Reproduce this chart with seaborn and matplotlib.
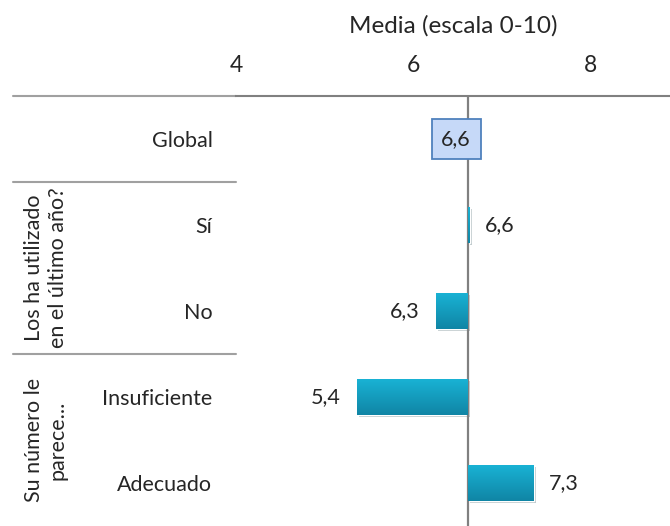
import numpy as np
import pandas as pd
import matplotlib
matplotlib.use("Agg")
import matplotlib.pyplot as plt
import matplotlib.patheffects as pe
import seaborn as sns

# ---- data ----
categories = ["Global", "Sí", "No", "Insuficiente", "Adecuado"]
means = [6.62, 6.64, 6.26, 5.37, 7.36]
value_labels = ["6,6", "6,6", "6,3", "5,4", "7,3"]
baseline = 6.62
tick_values = [4, 6, 8]
tick_labels = ["4", "6", "8"]
groups = ["Los ha utilizado\nen el último año?", "Su número le\nparece..."]
group_centers = [1.5, 3.5]
group_separators = [-0.5, 0.5, 2.5]
axis_title = "Media (escala 0-10)"

sns.set_theme(style="white")
FONT = ["Lato", "DejaVu Sans"]
plt.rcParams["font.family"] = FONT
FS = 15.5

df = pd.DataFrame({"cat": categories, "diff": np.array(means) - baseline})

fig = plt.figure(figsize=(6.70, 5.26), dpi=100)
ax = fig.add_axes([236 / 670, 0.0, 434 / 670, 1 - 96 / 526])

sns.barplot(data=df, x="diff", y="cat", orient="h", color="#159CBE",
            width=0.41, ax=ax, saturation=1)

ax.set_xlim(4 - baseline, 8.9 - baseline)
ax.set_ylim(4.5, -0.5)

# gradient on bars
grad = np.linspace(0, 1, 64).reshape(-1, 1)
cmap = matplotlib.colors.LinearSegmentedColormap.from_list("g", ["#19B2D4", "#1085A5"])
for p in ax.patches:
    x0, y0 = p.get_x(), p.get_y()
    w, h = p.get_width(), p.get_height()
    if abs(w) < 1e-9:
        continue
    p.set_path_effects([pe.SimplePatchShadow(offset=(1.5, -1.5), alpha=0.25), pe.Normal()])
    im = ax.imshow(grad, cmap=cmap, aspect="auto", origin="upper",
                   extent=(x0, x0 + w, y0 + h, y0), zorder=p.get_zorder() + 0.1)
    im.set_clip_path(p)

ax.set_xlim(4 - baseline, 8.9 - baseline)
ax.set_ylim(4.5, -0.5)

# axes styling
ax.xaxis.tick_top()
ax.xaxis.set_label_position("top")
ax.set_xticks([v - baseline for v in tick_values])
ax.set_xticklabels(tick_labels, fontsize=16.5)
ax.tick_params(axis="x", length=0, pad=14.5)
ax.set_xlabel(axis_title, fontsize=17.5, labelpad=16)
ax.set_ylabel("")
ax.tick_params(axis="y", length=0, pad=17, labelsize=FS)
for s in ["left", "right", "bottom"]:
    ax.spines[s].set_visible(False)
ax.spines["top"].set_color("#808080")
ax.spines["top"].set_linewidth(1.5)

ax.axvline(0, color="#808080", lw=1.6, zorder=1)

# value labels
for i, (m, lab) in enumerate(zip(means, value_labels)):
    d = m - baseline
    if i == 0:
        ax.text(-0.135, i, lab, ha="center", va="center", fontsize=FS, zorder=5,
                bbox=dict(boxstyle="square,pad=0.45", fc="#C6D9F8", ec="#4F81BD", lw=1.3))
    elif d >= 0:
        ax.annotate(lab, (d, i), xytext=(11, 0), textcoords="offset points",
                    ha="left", va="center", fontsize=FS)
    else:
        ax.annotate(lab, (d, i), xytext=(-12, 0), textcoords="offset points",
                    ha="right", va="center", fontsize=FS)

# group separators and labels in category area
trans = matplotlib.transforms.blended_transform_factory(ax.transAxes, ax.transData)
for ysep in group_separators:
    ax.plot([-0.514, 0], [ysep, ysep], transform=trans, color="#A0A0A0", lw=1.5,
            clip_on=False)
for g, yc in zip(groups, group_centers):
    ax.text(-0.438, yc, g, transform=trans, rotation=90, ha="center", va="center",
            fontsize=FS, linespacing=1.2, multialignment="center")

fig.savefig("out.png", dpi=100)
